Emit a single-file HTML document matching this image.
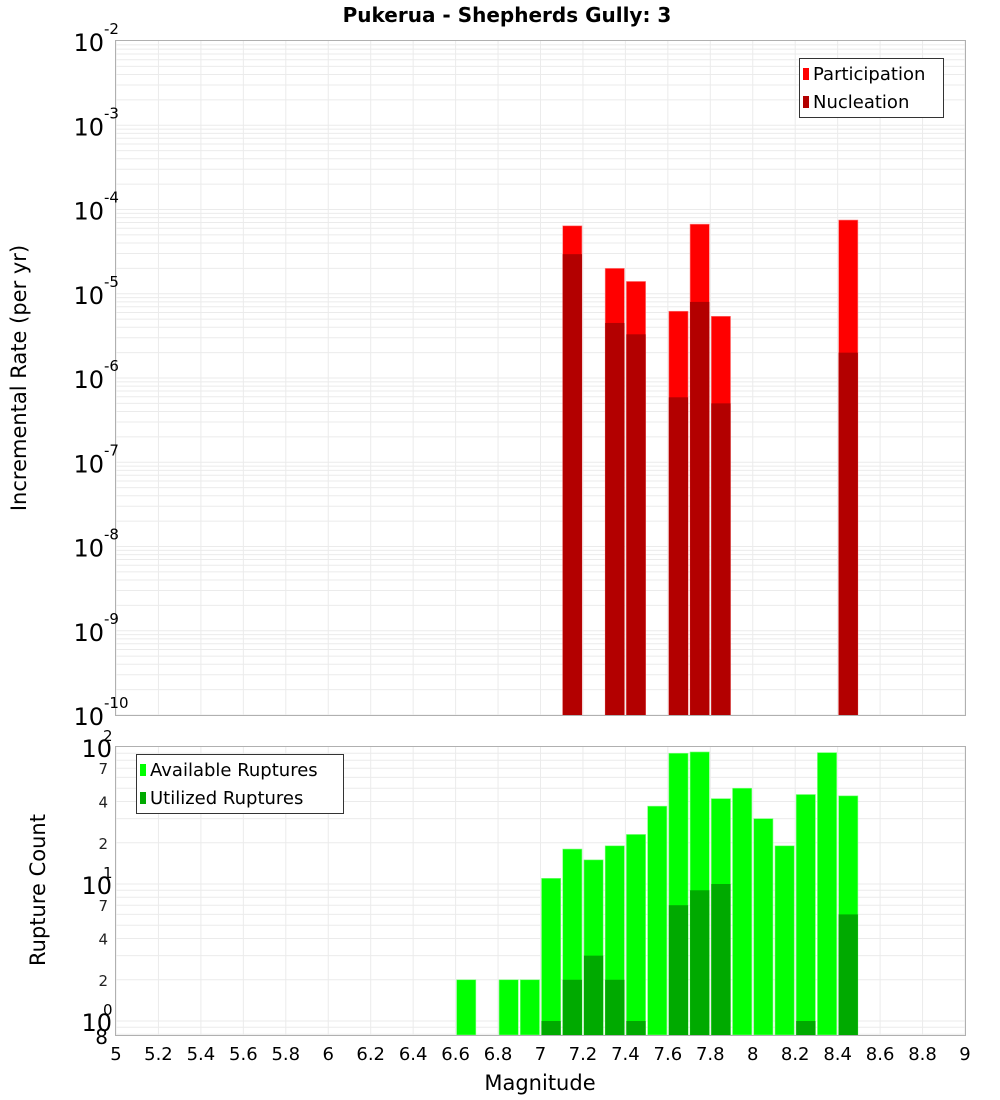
<!DOCTYPE html>
<html><head><meta charset="utf-8"><style>
html,body{margin:0;padding:0;background:#fff;}
svg{display:block;font-family:"DejaVu Sans","Liberation Sans",sans-serif;}
</style></head><body>
<svg id="c" width="1000" height="1100" xmlns="http://www.w3.org/2000/svg">
<text x="507" y="22" text-anchor="middle" font-size="20" font-weight="bold">Pukerua - Shepherds Gully: 3</text>
</svg>
<script>
const binStarts=[6.6,6.7,6.8,6.9,7.0,7.1,7.2,7.3,7.4,7.5,7.6,7.7,7.8,7.9,8.0,8.1,8.2,8.3,8.4];
const available=[2,0,2,2,11,18,15,19,23,37,90,92,42,50,30,19,45,91,44];
const utilized=[0,0,0,0,1,2,3,2,1,0,7,9,10,0,0,0,1,0,6];
const rateMags=[7.1,7.3,7.4,7.6,7.7,7.8,8.4];
const participation=[6.4e-5,2.0e-5,1.4e-5,6.2e-6,6.7e-5,5.4e-6,7.5e-5];
const nucleation=[2.95e-5,4.5e-6,3.3e-6,5.9e-7,8.0e-6,5.0e-7,2.0e-6];
const xTicks=[5,5.2,5.4,5.6,5.8,6,6.2,6.4,6.6,6.8,7,7.2,7.4,7.6,7.8,8,8.2,8.4,8.6,8.8,9];
const topDecades=[-2,-3,-4,-5,-6,-7,-8,-9,-10];
const botMinor=[2,4,7];

const svg=document.getElementById('c');
const NS='http://www.w3.org/2000/svg';
function mk(tag,at,parent){const e=document.createElementNS(NS,tag);for(const k in at)e.setAttribute(k,at[k]);(parent||svg).appendChild(e);return e;}
const L=116,R=965;
const x=m=>L+(m-5)/4*(R-L);
const T0=41,T1=715;
const yTop=v=>T0+(-2-Math.log10(v))*(T1-T0)/8;
const B0=747,B1=1035;
const yBot=v=>1021-Math.log10(v)*137;

// top grid
const gT=mk('g',{});


for(let d=-10;d<-2;d++){for(let k=1;k<10;k++){const yy=yTop(k*Math.pow(10,d));if(yy<T0||yy>T1)continue;mk('line',{x1:L,x2:R,y1:yy,y2:yy,stroke:'#ebebeb','stroke-width':1},gT);}}
xTicks.forEach(t=>{mk('line',{x1:x(t),x2:x(t),y1:T0,y2:T1,stroke:'#ebebeb','stroke-width':1},gT);});
// bottom grid
const gB=mk('g',{});


for(let d=-1;d<2;d++){for(let k=1;k<10;k++){const yy=yBot(k*Math.pow(10,d));if(yy<B0||yy>B1)continue;mk('line',{x1:L,x2:R,y1:yy,y2:yy,stroke:'#ebebeb','stroke-width':1},gB);}}
xTicks.forEach(t=>{mk('line',{x1:x(t),x2:x(t),y1:B0,y2:B1,stroke:'#ebebeb','stroke-width':1},gB);});

// top bars
rateMags.forEach((m,i)=>{
  const x0=x(m)+1,w=x(m+0.1)-x(m)-2;
  let r=mk('rect',{x:x0,y:yTop(participation[i]),width:w,height:T1-yTop(participation[i]),fill:'#ff0000',stroke:'#ff8080','stroke-width':0.6});
  
  
  r=mk('rect',{x:x0,y:yTop(nucleation[i]),width:w,height:T1-yTop(nucleation[i]),fill:'#b30000'});
  
  
});
// bottom bars
binStarts.forEach((m,i)=>{
  const x0=x(m)+1,w=x(m+0.1)-x(m)-2;
  if(available[i]>0){const yy=Math.max(B0,yBot(available[i]));
    const r=mk('rect',{x:x0,y:yy,width:w,height:B1-yy,fill:'#00ff00',stroke:'#80ff80','stroke-width':0.6});
    
    }
  if(utilized[i]>0){const yy=yBot(utilized[i]);
    const r=mk('rect',{x:x0,y:yy,width:w,height:B1-yy,fill:'#00aa00'});
    
    }
});

// frames
let f=mk('rect',{x:L-0.5,y:T0-0.5,width:R-L+1,height:T1-T0+1,fill:'none',stroke:'#b0b0b0'});


f=mk('rect',{x:L-0.5,y:B0-0.5,width:R-L+1,height:B1-B0+1,fill:'none',stroke:'#b0b0b0'});



// top y ticks
topDecades.forEach(d=>{
  const yy=yTop(Math.pow(10,d));
  const t=mk('text',{x:104,y:yy+10,'text-anchor':'end','font-size':24});
  
  
  t.textContent='10';
  const s=mk('text',{x:104,y:yy-7,'font-size':15});
  
  
  s.textContent=String(d);
});
// bottom y ticks
[0,1,2].forEach(d=>{
  const yy=yBot(Math.pow(10,d));
  const t=mk('text',{x:112,y:yy+10,'text-anchor':'end','font-size':24});
  
  
  t.textContent='10';
  const s=mk('text',{x:103,y:yy-6,'font-size':15});
  
  
  s.textContent=String(d);
});
[0,1].forEach(d=>{botMinor.forEach(k=>{
  const yy=yBot(k*Math.pow(10,d));
  const t=mk('text',{x:108,y:yy+6,'text-anchor':'end','font-size':15,fill:'#222'});
  
  
  t.textContent=String(k);
});});
let e8=mk('text',{x:108,y:B1+9,'text-anchor':'end','font-size':20});


e8.textContent='8';

// x ticks
xTicks.forEach(t=>{
  const tx=mk('text',{x:x(t),y:1060,'text-anchor':'middle','font-size':18});
  
  
  tx.textContent=String(t);
});
let xt=mk('text',{x:540,y:1090,'text-anchor':'middle','font-size':21});


xt.textContent='Magnitude';
let yt=mk('text',{x:0,y:0,'text-anchor':'middle','font-size':21,transform:'translate(26,378) rotate(-90)'});


yt.textContent='Incremental Rate (per yr)';
yt=mk('text',{x:0,y:0,'text-anchor':'middle','font-size':21,transform:'translate(45,890) rotate(-90)'});


yt.textContent='Rupture Count';

// legends
function legend(name,bx,by,bw,items){
  const g=mk('g',{});
  
  
  mk('rect',{x:bx+0.5,y:by+0.5,width:bw,height:59,fill:'#fff',stroke:'#333'},g);
  items.forEach((it,i)=>{
    mk('rect',{x:bx+4,y:by+10+i*28,width:6,height:12,fill:it[1]},g);
    const t=mk('text',{x:bx+14,y:by+22+i*28,'font-size':18},g);
    
    
    t.textContent=it[0];
  });
}
legend('rate-legend',799,58,144,[['Participation','#ff0000'],['Nucleation','#b30000']]);
legend('rupture-legend',136,754,207,[['Available Ruptures','#00ff00'],['Utilized Ruptures','#00aa00']]);
</script>
</body></html>
